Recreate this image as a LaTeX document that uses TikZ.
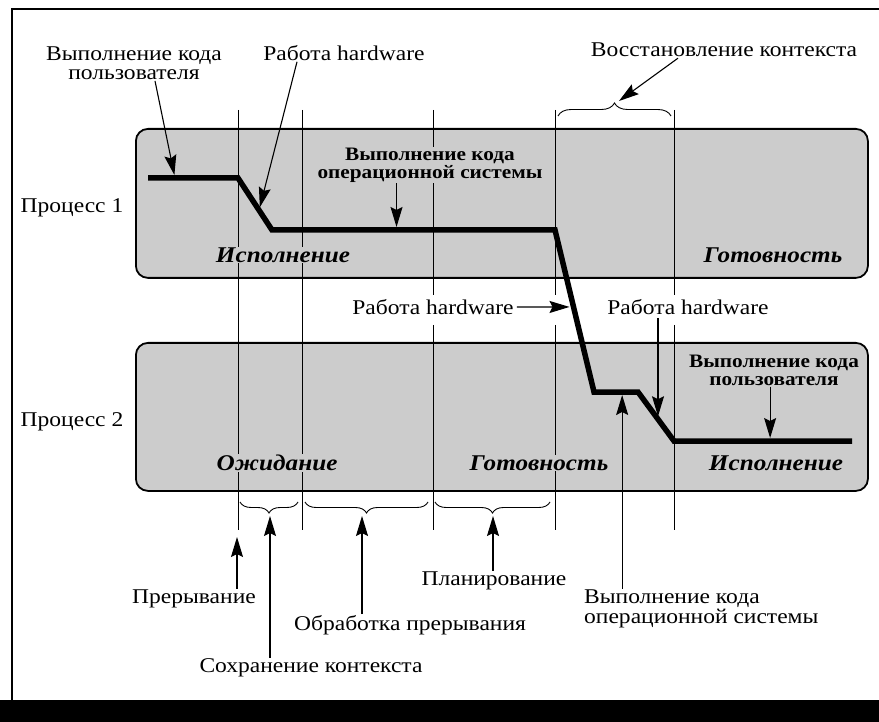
\documentclass[tikz,border=0pt]{standalone}
\usepackage{fontspec}
\setmainfont{Liberation Serif}[FakeStretch=1.12]
\usepackage{tikz}
\usetikzlibrary{arrows.meta,calc,decorations.pathreplacing}
\definecolor{boxgray}{gray}{0.8}

\begin{document}
\begin{tikzpicture}[x=1pt,y=-1pt,
lbl/.style={font=\fontsize{21}{19.5}\selectfont,align=center,inner sep=1pt},
lblw/.style={lbl,fill=white,inner sep=3pt},
osb/.style={font=\bfseries\fontsize{19}{18}\selectfont,align=center,inner sep=1pt,fill=boxgray},
st/.style={font=\bfseries\itshape\fontsize{22.5}{22}\selectfont,inner sep=1pt,fill=boxgray},
procbox/.style={draw,line width=1.8pt,rounded corners=12pt,fill=boxgray,minimum width=732pt,anchor=north west},
tick/.style={line width=0.8pt},
ptr/.style={line width=1.1pt,-{Stealth[length=20pt,width=12pt,inset=3pt]}},
trk/.style={line width=5.5pt},
brd/.style={decorate,decoration={brace,mirror,amplitude=11pt},line width=0.9pt},
bru/.style={decorate,decoration={brace,amplitude=13pt},line width=0.9pt}]
\useasboundingbox (0,0) rectangle (879,722);
\draw[line width=1.3pt] (12,700) -- (12,9) -- (879,9);
\fill (0,700) rectangle (879,722);
% process boxes
\node[procbox,minimum height=149pt] (p1) at (135,128) {};
\node[procbox,minimum height=148pt] (p2) at (135,342) {};
% time marks
\foreach \x in {238,302} {
   \draw[tick] (\x,110) -- (\x,530);
}
\foreach \x in {433,555,674} {
   \draw[tick] (\x,110) -- (\x,295);
   \draw[tick] (\x,325) -- (\x,530);
}
\foreach \a/\b in {240/298,305/428,435/550} {
   \draw[brd] (\a,502) -- (\b,502);
}
\draw[bru] (558,116) -- (671,116);
% labels
\node[lbl] (pr1) at (72,208) {Процесс 1};
\node[lbl] (pr2) at (72,422) {Процесс 2};
\node[lbl] (usr1) at (134,63) {Выполнение кода\\пользователя};
\node[lbl] (hw1) at (344,53) {Работа hardware};
\node[lbl] (rst) at (724,50) {Восстановление контекста};
\node[osb] (os1) at (430,165) {Выполнение кода\\операционной системы};
\node[st] (ex1) at (283,255) {Исполнение};
\node[st] (rd1) at (773,255) {Готовность};
\node[st] (wt2) at (277,463) {Ожидание};
\node[st] (rd2) at (539,463) {Готовность};
\node[st] (ex2) at (776,463) {Исполнение};
\node[lblw] (hw2) at (433,307) {Работа hardware};
\node[lblw] (hw3) at (688,307) {Работа hardware};
\node[osb] (usr2) at (774,370) {Выполнение кода\\пользователя};
\node[lbl] (pre) at (194,599) {Прерывание};
\node[lbl] (sav) at (311,668) {Сохранение контекста};
\node[lbl] (isr) at (410,625) {Обработка прерывания};
\node[lbl] (sch) at (494,581) {Планирование};
\node[lbl,align=left,anchor=west] (os2) at (583,609) {Выполнение кода\\операционной системы};
% process switch
\coordinate (t0) at (148,178);
\coordinate (t1) at (238,178);
\coordinate (t2) at (272,230);
\coordinate (t3) at (555,230);
\coordinate (t4) at (594,392);
\coordinate (t5) at (638,392);
\coordinate (t6) at (674,441);
\coordinate (t7) at (852,441);
\draw[trk] (t0) -- (t1) -- (t2) -- (t3) -- (t4) -- (t5) -- (t6) -- (t7);
\coordinate (u1e) at ($(t0)!.3!(t1)$);
\coordinate (h1e) at ($(t1)!.62!(t2)$);
\coordinate (o1e) at ($(t2)!.44!(t3)$);
\coordinate (h2e) at ($(t3)!.475!(t4)$);
\coordinate (o2e) at ($(t4)!.64!(t5)$);
\coordinate (h3e) at ($(t5)!.556!(t6)$);
\coordinate (u2e) at ($(t6)!.54!(t7)$);
\coordinate (irq) at (237,537);
\coordinate (b1) at (270,516);
\coordinate (b2) at (362,516);
\coordinate (b3) at (493,516);
\coordinate (b4) at (619,101);
% pointers
\draw[ptr,shorten >=3pt] ([xshift=21pt]usr1.south) -- (u1e);
\draw[ptr,shorten >=3pt] ([xshift=-47pt]hw1.south) -- (h1e);
\draw[ptr,shorten >=3pt] (os1.south -| o1e) -- (o1e);
\draw[ptr,shorten >=4pt] (hw2.east) -- (h2e);
\draw[ptr,shorten >=3pt] (hw3.south -| h3e) -- (h3e);
\draw[ptr,shorten >=3pt] (usr2.south -| u2e) -- (u2e);
\draw[ptr,shorten >=3pt] (os2.north -| o2e) -- (o2e);
\draw[ptr] (pre.north -| irq) -- (irq);
\draw[ptr] (sav.north -| b1) -- (b1);
\draw[ptr] (isr.north -| b2) -- (b2);
\draw[ptr] (sch.north -| b3) -- (b3);
\draw[ptr] ([xshift=-46pt]rst.south) -- (b4);
\end{tikzpicture}
\end{document}
